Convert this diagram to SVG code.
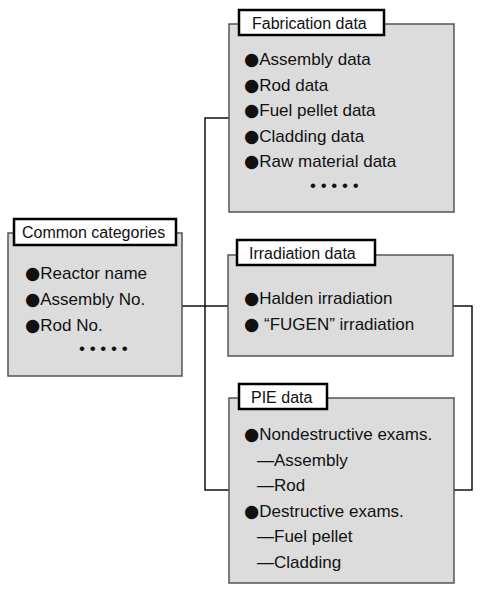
<svg xmlns="http://www.w3.org/2000/svg" width="480" height="594" viewBox="0 0 480 594">
<style>
.box{fill:#dcdcdc;stroke:#555;stroke-width:1.5}
.tbox{fill:#fff;stroke:#000;stroke-width:2.5}
.t{font-family:"Liberation Sans","DejaVu Sans",Arial,sans-serif;font-size:16px;fill:#111}
.i{font-family:"Liberation Sans","DejaVu Sans",Arial,sans-serif;font-size:17px;fill:#111}
.b{font-family:"DejaVu Sans",sans-serif;font-size:17.5px}
.c{fill:none;stroke:#111;stroke-width:1.5}
</style>
<rect width="480" height="594" fill="#fff"/>
<g id="connectors">
<polyline class="c" points="230,118 205,118 205,490 230,490"/>
<line class="c" x1="182" y1="306" x2="229" y2="306"/>
<polyline class="c" points="453,306 472,306 472,490 454,490"/>
</g>
<g id="common">
<rect class="box" x="8" y="233" width="174" height="143"/>
<rect class="tbox" x="14" y="219" width="162" height="26"/>
<text class="t" x="22" y="238">Common categories</text>
<text class="i" x="25" y="279"><tspan class="b">●</tspan>Reactor name</text>
<text class="i" x="25" y="305"><tspan class="b">●</tspan>Assembly No.</text>
<text class="i" x="25" y="331"><tspan class="b">●</tspan>Rod No.</text>
<text class="i" x="79" y="354">• • • • •</text>
</g>
<g id="fabrication">
<rect class="box" x="229" y="24" width="225" height="188"/>
<rect class="tbox" x="239" y="10" width="145" height="25"/>
<text class="t" x="252" y="29">Fabrication data</text>
<text class="i" x="244" y="65"><tspan class="b">●</tspan>Assembly data</text>
<text class="i" x="244" y="91"><tspan class="b">●</tspan>Rod data</text>
<text class="i" x="244" y="116"><tspan class="b">●</tspan>Fuel pellet data</text>
<text class="i" x="244" y="142"><tspan class="b">●</tspan>Cladding data</text>
<text class="i" x="244" y="167"><tspan class="b">●</tspan>Raw material data</text>
<text class="i" x="310" y="191">• • • • •</text>
</g>
<g id="irradiation">
<rect class="box" x="228" y="255" width="225" height="101"/>
<rect class="tbox" x="237" y="240" width="138" height="25"/>
<text class="t" x="249" y="259">Irradiation data</text>
<text class="i" x="244" y="304"><tspan class="b">●</tspan>Halden irradiation</text>
<text class="i" x="244" y="330"><tspan class="b">●</tspan> “FUGEN” irradiation</text>
</g>
<g id="pie">
<rect class="box" x="229" y="398" width="225" height="185"/>
<rect class="tbox" x="239" y="384" width="88" height="25"/>
<text class="t" x="251" y="403">PIE data</text>
<text class="i" x="244" y="440"><tspan class="b">●</tspan>Nondestructive exams.</text>
<text class="i" x="257" y="466">—Assembly</text>
<text class="i" x="257" y="491">—Rod</text>
<text class="i" x="244" y="517"><tspan class="b">●</tspan>Destructive exams.</text>
<text class="i" x="257" y="542">—Fuel pellet</text>
<text class="i" x="257" y="568">—Cladding</text>
</g>
</svg>
